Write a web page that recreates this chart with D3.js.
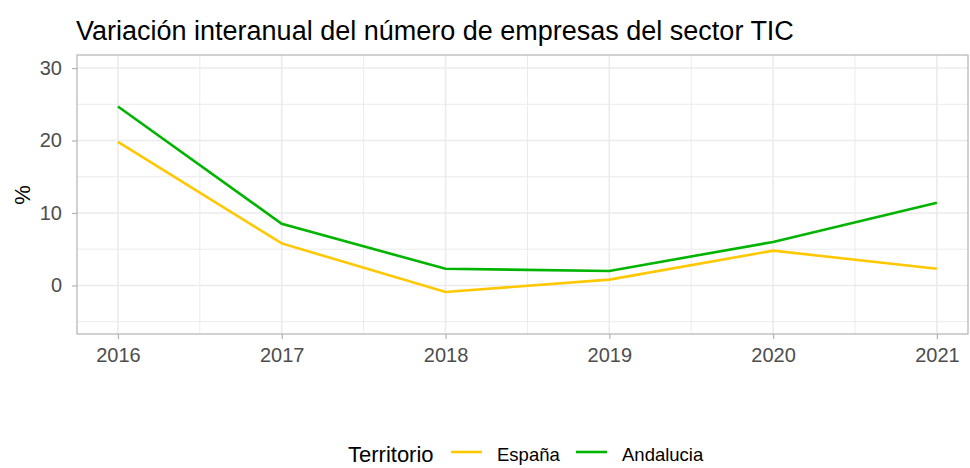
<!DOCTYPE html>
<html>
<head>
<meta charset="utf-8">
<script src="https://cdn.jsdelivr.net/npm/d3@7"></script>
<style>
  body { margin: 0; background: #fff; }
  svg text { font-family: "Liberation Sans", Arial, sans-serif; }
  .grid line { stroke: #ebebeb; }
</style>
</head>
<body>
<div id="chart"></div>
<script>
var years = [2016, 2017, 2018, 2019, 2020, 2021];
var espana = [19.8, 5.8, -0.9, 0.8, 4.8, 2.3];
var andalucia = [24.7, 8.5, 2.3, 2.0, 6.0, 11.4];
var yTicks = [0, 10, 20, 30];
var yMinor = [-5, 5, 15, 25];
var seriesNames = ["España", "Andalucia"];
var seriesColors = ["#ffc800", "#00b400"];

var width = 970, height = 468;
var margin = {top: 55, right: 2, bottom: 134, left: 77};
var chartWidth = width - margin.left - margin.right;
var chartHeight = height - margin.top - margin.bottom;

var svg = d3.select("#chart").append("svg")
    .attr("width", width)
    .attr("height", height);

svg.append("text")
    .attr("x", 76)
    .attr("y", 40)
    .attr("font-size", 27)
    .attr("fill", "#000")
    .text("Variación interanual del número de empresas del sector TIC");

var g = svg.append("g")
    .attr("transform", `translate(${margin.left}, ${margin.top})`);

var xScale = d3.scaleLinear()
    .domain([2015.75, 2021.19])
    .range([0, chartWidth]);

var yScale = d3.scaleLinear()
    .domain([-6.7, 31.8])
    .range([chartHeight, 0]);

// grid
var grid = g.append("g").attr("class", "grid");
grid.selectAll(".minor-y").data(yMinor).enter().append("line")
    .attr("x1", 0).attr("x2", chartWidth)
    .attr("y1", d => yScale(d)).attr("y2", d => yScale(d))
    .attr("stroke-width", 1);
grid.selectAll(".minor-x").data(years.slice(1).map(y => y - 0.5)).enter().append("line")
    .attr("y1", 0).attr("y2", chartHeight)
    .attr("x1", d => xScale(d)).attr("x2", d => xScale(d))
    .attr("stroke-width", 1);
grid.selectAll(".major-y").data(yTicks).enter().append("line")
    .attr("x1", 0).attr("x2", chartWidth)
    .attr("y1", d => yScale(d)).attr("y2", d => yScale(d))
    .attr("stroke-width", 1.6);
grid.selectAll(".major-x").data(years).enter().append("line")
    .attr("y1", 0).attr("y2", chartHeight)
    .attr("x1", d => xScale(d)).attr("x2", d => xScale(d))
    .attr("stroke-width", 1.6);

// panel border
g.append("rect")
    .attr("width", chartWidth)
    .attr("height", chartHeight)
    .attr("fill", "none")
    .attr("stroke", "#b3b3b3")
    .attr("stroke-width", 1.2);

// axes
var xAxis = d3.axisBottom(xScale).tickValues(years).tickFormat(d3.format("d")).tickSize(5).tickPadding(9);
var yAxis = d3.axisLeft(yScale).tickValues(yTicks).tickSize(5).tickPadding(10);

var xg = g.append("g").attr("transform", `translate(0,${chartHeight})`).call(xAxis);
var yg = g.append("g").call(yAxis);
[xg, yg].forEach(function(a) {
  a.select(".domain").remove();
  a.selectAll(".tick line").attr("stroke", "#b3b3b3").attr("stroke-width", 1.2);
  a.selectAll(".tick text").attr("fill", "#4d4d4d").attr("font-size", 20);
});

svg.append("text")
    .attr("transform", `translate(30, ${margin.top + yScale(12.5)}) rotate(-90)`)
    .attr("text-anchor", "middle")
    .attr("font-size", 22)
    .attr("fill", "#000")
    .text("%");

// lines
var line = d3.line()
    .x((d, i) => xScale(years[i]))
    .y(d => yScale(d));

[espana, andalucia].forEach(function(vals, i) {
  g.append("path")
    .datum(vals)
    .attr("fill", "none")
    .attr("stroke", seriesColors[i])
    .attr("stroke-width", 2.6)
    .attr("d", line);
});

// legend (nudged up a little so descenders stay inside the frame)
var legend = svg.append("g").attr("transform", "translate(348, 452)");
legend.append("text")
    .attr("x", 0).attr("y", 10)
    .attr("font-size", 22)
    .attr("fill", "#000")
    .text("Territorio");
var keyX = [103, 228];
seriesNames.forEach(function(name, i) {
  legend.append("line")
    .attr("x1", keyX[i]).attr("x2", keyX[i] + 31)
    .attr("y1", 0).attr("y2", 0)
    .attr("stroke", seriesColors[i])
    .attr("stroke-width", 2.6);
  legend.append("text")
    .attr("x", keyX[i] + 46).attr("y", 9)
    .attr("font-size", 18.5)
    .attr("fill", "#000")
    .text(name);
});
</script>
</body>
</html>
